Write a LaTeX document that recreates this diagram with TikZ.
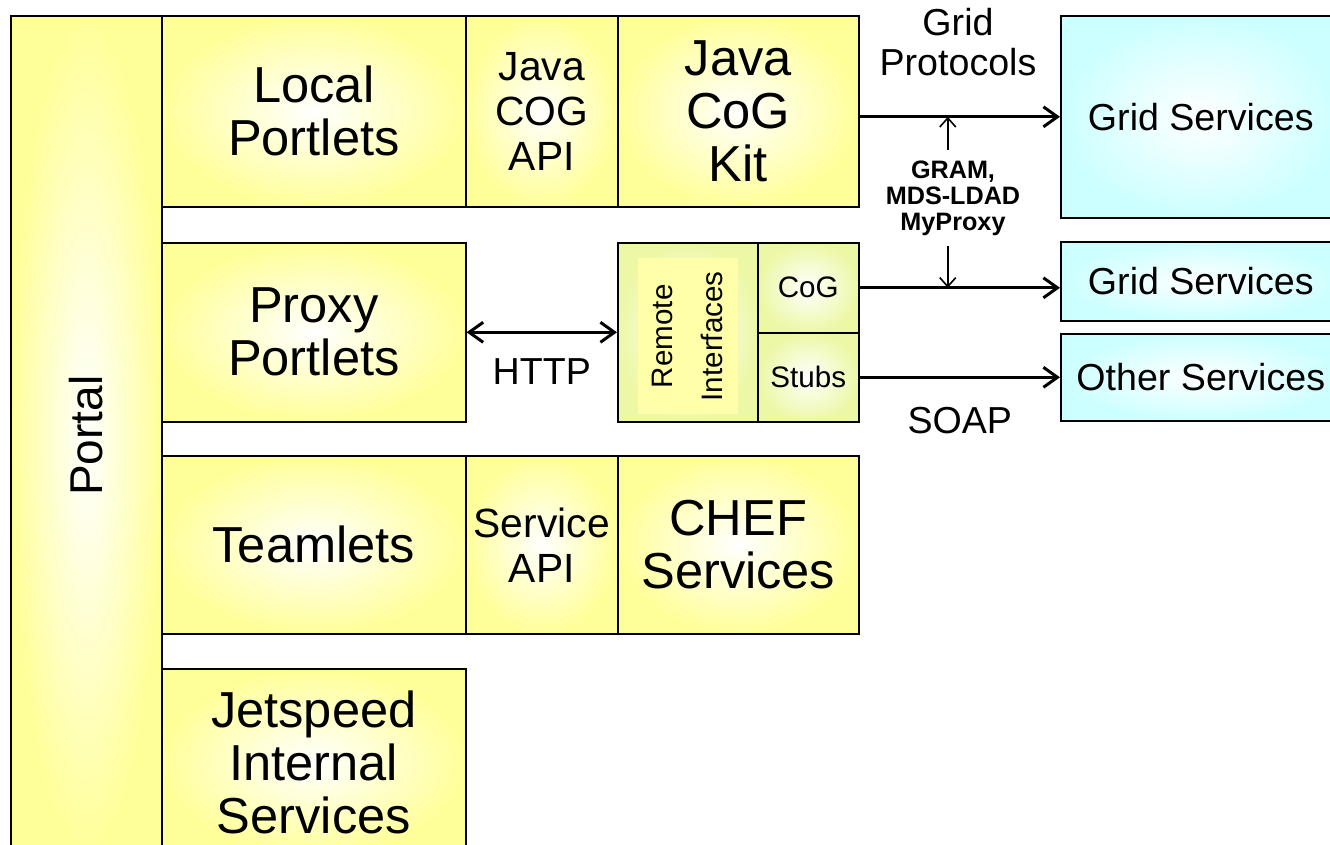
\documentclass[tikz,border=0pt]{standalone}
\usepackage{fontspec}
\usepackage{graphicx}
\setmainfont{Liberation Sans}
\usetikzlibrary{arrows.meta}
\definecolor{boxyellow}{HTML}{FFFF99}
\definecolor{boxlime}{HTML}{ECF8A6}
\definecolor{paleyellow}{HTML}{FFFFAA}
\definecolor{boxcyan}{HTML}{CCFFFF}
\newcommand{\portalfont}{\fontsize{23}{26.5}\selectfont}
\newcommand{\bigfont}{\fontsize{25.3}{26.5}\selectfont}
\newcommand{\midfont}{\fontsize{20.4}{22.5}\selectfont}
\newcommand{\svcfont}{\fontsize{18.8}{20}\selectfont}
\newcommand{\smallfont}{\fontsize{14.8}{25}\selectfont}
\newcommand{\tagfont}{\fontsize{12.6}{13}\selectfont\bfseries}
\tikzstyle{arrow} = [-{Straight Barb[length=7pt,width=10pt]},line width=1.5pt]
\tikzstyle{biarrow} = [{Straight Barb[length=7pt,width=10pt]}-{Straight Barb[length=7pt,width=10pt]},line width=1.5pt]
\tikzstyle{thinarrow} = [-{Straight Barb[length=4.5pt,width=8pt]},line width=0.8pt]
\tikzstyle{box} = [draw,line width=0.8pt,anchor=north west,inner sep=0pt,align=center,inner color=white,outer color=boxyellow]
\tikzstyle{svc} = [box,outer color=boxcyan,font=\svcfont]

\begin{document}
\begin{tikzpicture}[x=0.5pt,y=-0.5pt]
        \useasboundingbox (0,0) rectangle (1330,845);
        \clip (0,0) rectangle (1330,845);

        % portal column
        \node[box, minimum width=75.5pt, minimum height=420pt] at (10,15) (portal) {\rotatebox{90}{\portalfont Portal}};

        % local portlets row
        \node[box, minimum width=152pt, minimum height=95.5pt, font=\bigfont] at (161,15) (local) {Local\\Portlets};
        \node[box, minimum width=76pt, minimum height=95.5pt, font=\midfont] at (465,15) (cogapi) {Java\\COG\\API};
        \node[box, minimum width=120.5pt, minimum height=95.5pt, font=\bigfont] at (617,15) (kit) {Java\\CoG\\Kit};

        % proxy portlets row
        \node[box, minimum width=152pt, minimum height=89.5pt, font=\bigfont] at (161,242) (proxy) {Proxy\\Portlets};
        \node[box, minimum width=70pt, minimum height=89.5pt, outer color=boxlime] at (617,242) (remote) {};
        \node[fill=paleyellow, minimum width=48.5pt, minimum height=78pt, inner sep=0pt] at ([yshift=-2pt]remote.center) (remotetxt) {\rotatebox{90}{\smallfont\begin{tabular}{@{}c@{}}Remote\\Interfaces\end{tabular}}};
        \node[box, minimum width=50.5pt, minimum height=45pt, outer color=boxlime, font=\smallfont] at (757,242) (cog) {CoG};
        \node[box, minimum width=50.5pt, minimum height=44.5pt, outer color=boxlime, font=\smallfont] at (757,332) (stubs) {Stubs};

        % teamlets row
        \node[box, minimum width=152pt, minimum height=89pt, font=\bigfont] at (161,455) (team) {Teamlets};
        \node[box, minimum width=76pt, minimum height=89pt, font=\midfont] at (465,455) (svcapi) {Service\\API};
        \node[box, minimum width=120.5pt, minimum height=89pt, font=\bigfont] at (617,455) (chef) {CHEF\\Services};

        \node[box, minimum width=152pt, minimum height=93.5pt, font=\bigfont] at (161,668) (jet) {Jetspeed\\Internal\\Services};

        % services on the right
        \node[svc, minimum width=140pt, minimum height=101pt] at (1060,15) (grid1) {Grid Services};
        \node[svc, minimum width=140pt, minimum height=39.5pt] at (1060,241) (grid2) {Grid Services};
        \node[svc, minimum width=140pt, minimum height=43.5pt] at (1060,333) (other) {Other Services};

        \node[font=\svcfont, align=center] at (958,42) (proto) {Grid\\Protocols};
        \node[font=\tagfont, align=center, inner sep=5pt] at (953,198) (gram) {GRAM,\\MDS-LDAD\\MyProxy};

        \draw[arrow] (kit.east |- grid1.west) -- coordinate[pos=0.44] (gtop) (grid1.west);
        \draw[arrow] (cog.east) -- coordinate[pos=0.44] (gbot) (cog.east -| grid2.west);
        \draw[arrow] (stubs.east) -- (stubs.east -| other.west) node[midway, below=11pt, font=\svcfont]{SOAP};
        \draw[biarrow] (proxy.east) -- (remote.west) node[midway, below=9pt, font=\svcfont]{HTTP};
        \draw[thinarrow] (gram.north -| gtop) -- (gtop);
        \draw[thinarrow] (gram.south -| gbot) -- (gbot);

    \end{tikzpicture}
\end{document}
